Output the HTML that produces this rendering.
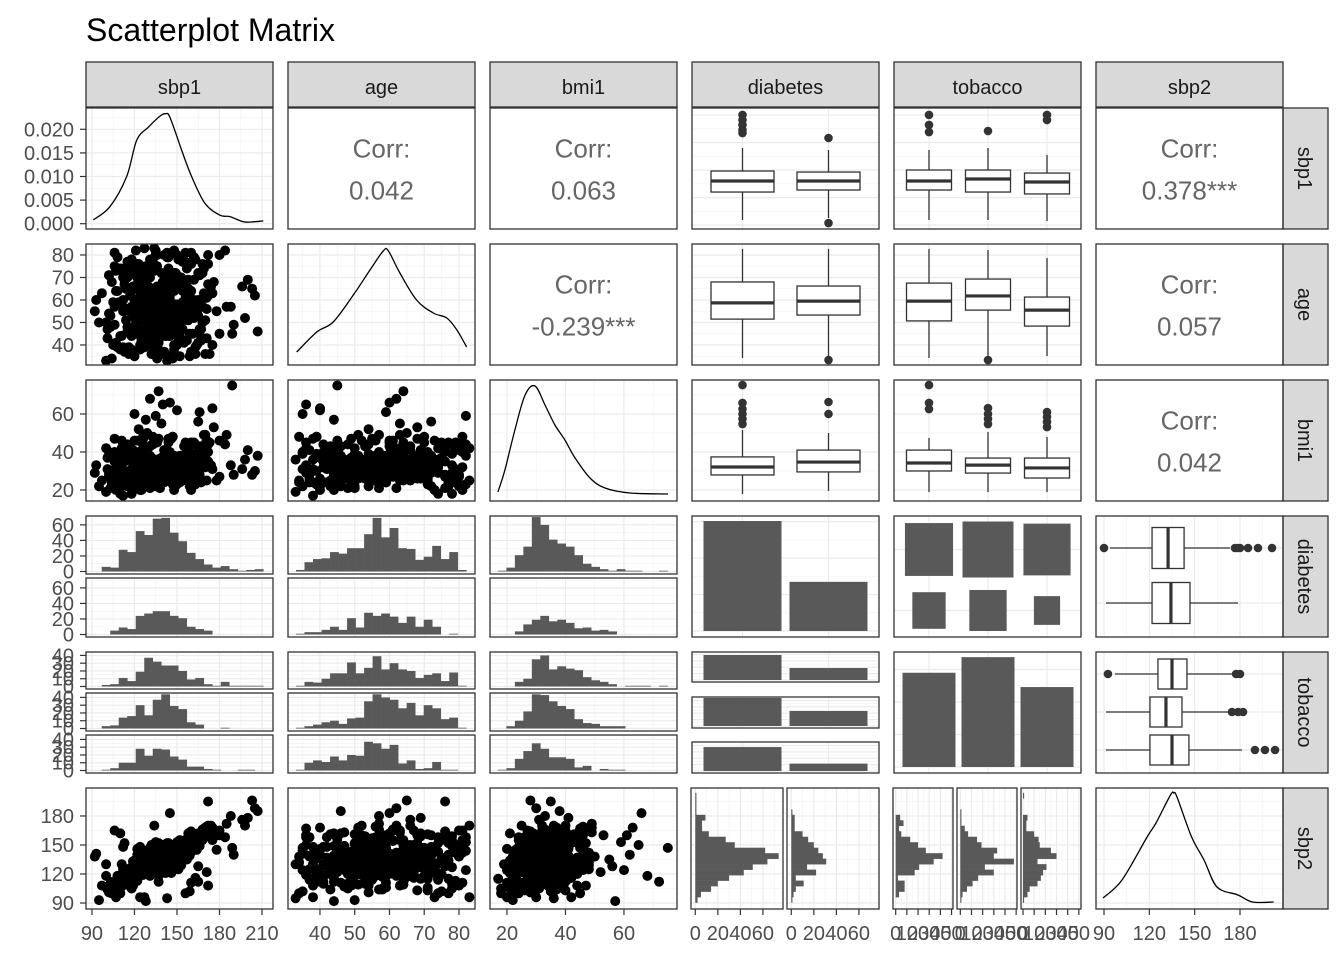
<!DOCTYPE html>
<html><head><meta charset="utf-8">
<style>
body{margin:0;background:#fff}
svg{display:block;font-family:"Liberation Sans",Arial,sans-serif}
</style></head>
<body>
<svg id="chart" width="1344" height="960" viewBox="0 0 1344 960"></svg>
<script>
// ---------------- DATA ----------------
const sbp1Base=[138,124,152,118,145,130,160,112,142,135,127,149,121,156,133,140,115,163,128,146,120,137,154,110,143,131,125,158,139,117,148,134,122,166,129,141,113,151,136,126,170,119,144,132,155,108,147,123,161,135,116,150,127,142,119,157,130,138,111,165,125,145,133,121,152,139,114,148,128,159,136,124,143,117,162,131,149,120,140,106,155,129,146,122,168,134,118,153,127,141,175,115,144,132,158,123,137,150,112,164,205,203,200,198,207,180,185,188,95,107,110,97,180,189,175,184,100,104,120,135,150,145,172,112,160,128,118,140,165,92,93,127,196,176,143,131,166,102,190,134,124,156,137,147,178];
const sbp1Extra=[130,135,140,128,145,122,150,138,126,142,133,147,119,155,131,139,124,148,136,129,
141,127,153,134,121,144,137,132,158,125,146,130,139,123,151,135,128,143,120,149,
136,131,154,126,140,133,145,129,137,122,152,138,127,143,134,148,125,141,132,156,
128,139,146,124,135,150,131,142,126,137,144,130,153,121,138,147,133,129,140,135,
118,160,132,145,127,139,151,124,136,143,130,148,134,122,157,137,128,144,131,140,
126,149,135,141,123,152,138,129,146,133,120,143,136,154,127,139,131,147,125,142,
134,150,128,137,145,122,140,132,155,126,138,144,130,148,135,124,141,133,151,129,
112,165,170,115,162,108,168,114,172,110,116,164,118,167,111,159,106,171,113,163];
const sbp1Wide=[105,168,112,160,118,152,100,172,125,147,108,163,131,115,170,122,157,103,144,136,
110,166,128,150,116,174,134,102,159,121,143,113,169,138,106,155,126,162,119,148,
101,171,132,145,114,158,124,167,109,151,137,104,164,129,141,117,173,123,153,107,
160,111,147,133,169,120,142,103,156,127,165,115,139,171,108,150,130,162,118,145,
174,106,154,125,161,113,148,136,102,167,121,157,110,143,170,128,152,105,163,116,
149,131,172,107,158,122,144,166,112,155,135,101,168,126,141,119,160,109,153,134];
const ageBase=[58,62,47,55,66,51,59,70,44,63,57,72,49,61,54,68,46,56,75,52,60,41,64,58,50,78,43,69,55,62,38,73,53,47,65,59,67,42,80,56,61,48,70,36,58,64,52,76,45,60,71,57,39,66,54,74,49,62,58,53,68,44,77,59,35,63,51,72,47,57,66,40,81,55,60,46,69,52,64,57,41,73,55,67,50,61,44,70,58,37,63,56,79,48,65,54,42,71,60,55,62,65,69,52,46,80,57,57,50,73,74,63,45,45,40,82,33,34,35,82,40,60,76,38,81,44,78,36,72,55,60,83,66,68,33,62,59,71,49,83,38,77,64,34,55];
const ageExtra=[55,60,48,63,52,67,58,45,70,56,61,50,65,57,42,72,59,53,64,47,
62,55,68,51,58,44,66,60,54,71,49,63,57,46,69,56,61,52,74,58,
50,65,59,43,67,54,62,57,48,70,56,64,51,60,45,68,58,53,73,55,
61,47,66,57,52,69,59,44,63,56,71,50,58,65,54,47,62,60,68,53,
57,64,49,72,56,61,45,67,59,52,70,55,63,48,66,58,54,74,51,60,
46,65,57,62,50,69,56,43,64,59,53,71,58,47,66,61,55,68,52,57,
63,49,70,56,60,45,67,58,54,72,50,62,57,64,48,69,55,61,53,66,
38,41,36,77,79,39,76,37,80,44,75,40,78,42,73,35,81,43,74,39];
const ageWide=[40,72,55,64,38,78,50,67,44,81,58,36,70,48,62,76,42,53,68,34,
74,46,60,80,39,66,52,71,45,57,79,37,63,49,75,56,41,69,54,82,
47,61,77,35,65,51,73,43,59,78,38,68,55,46,80,62,36,71,50,64,
76,44,57,39,74,53,67,48,81,41,60,70,37,56,79,45,66,52,72,35,
63,49,77,42,58,69,40,75,54,47,82,61,38,65,51,73,44,59,78,36,
68,50,62,41,76,55,46,71,39,64,80,43,57,70,48,66,37,74,53,60];
const bmiBase=[32,28,36,30,34,27,38,29,41,26,33,31,35,29,44,30,24,34,37,28,46,32,25,31,39,33,22,36,27,42,30,34,29,31,50,24,35,33,28,38,32,26,45,30,37,28,33,40,29,35,23,31,48,27,34,30,36,21,32,43,29,33,26,38,31,55,28,34,30,40,25,37,32,29,35,43,28,33,30,26,38,31,47,27,33,36,24,34,29,41,31,37,28,35,30,52,33,26,39,32,30,28,41,36,38,27,49,33,22,20,18,25,46,75,63,44,19,24,60,59,62,66,35,17,20,57,18,65,56,29,33,42,31,53,36,68,61,40,28,25,30,45,72,48,25];
const bmiExtra=[30,33,28,35,31,27,36,32,29,38,30,34,26,33,31,37,28,32,35,29,
31,27,34,30,36,28,33,29,39,31,26,35,32,30,37,28,34,31,29,33,
32,36,28,31,35,27,30,34,29,38,31,33,26,32,36,30,28,35,31,29,
34,30,27,33,31,37,29,32,35,28,30,34,31,26,33,36,29,32,30,35,
28,31,37,29,34,30,32,27,36,31,33,29,35,30,28,34,31,32,38,29,
30,35,27,33,31,36,29,32,28,34,30,37,31,29,33,27,35,30,32,31,
33,29,36,30,28,34,31,35,27,32,30,38,29,33,31,26,34,30,32,36,
24,40,42,22,45,23,41,25,44,21,43,26,39,24,46,22,40,25,42,23];
const bmiWide=[22,38,27,45,31,24,42,35,20,48,29,33,26,44,37,21,40,30,47,25,
34,28,43,23,39,32,46,27,36,21,41,30,49,25,35,28,44,33,22,38,
31,46,24,40,27,36,20,43,33,29,47,26,37,22,41,30,45,25,34,39,
28,42,23,48,32,26,38,21,44,35,29,40,24,46,31,27,43,36,22,39,
33,47,25,37,30,41,20,45,28,34,23,42,36,26,49,31,38,24,44,29,
35,21,40,32,27,46,25,39,30,43,22,37,33,48,28,41,26,36,31,45];
const sbp2Base=[135,128,142,120,150,125,146,118,139,131,122,148,116,155,137,129,111,158,133,141,124,118,140,105,152,127,120,162,134,126,130,145,113,149,138,126,121,137,142,119,165,110,147,123,151,112,133,130,144,128,115,153,125,139,108,143,136,121,117,159,131,127,140,124,147,135,109,145,129,139,132,120,150,114,156,126,141,119,137,104,148,127,143,116,161,130,112,146,133,138,155,118,142,125,150,122,129,144,120,152,188,196,178,170,185,165,172,180,93,96,100,108,160,147,168,158,130,100,124,153,140,183,195,115,111,92,105,150,128,138,141,96,176,160,95,118,160,103,140,170,96,100,112,132,145];
const sbp2Extra=[128,140,132,125,138,130,145,122,135,142,127,136,133,148,120,139,131,144,126,137,
134,141,129,150,123,136,146,128,139,132,143,124,137,131,147,126,135,140,121,145,
133,127,152,130,138,124,142,135,129,146,137,125,134,141,128,149,132,136,123,143,
130,138,126,144,133,129,147,121,136,140,127,142,131,135,150,124,139,133,128,145,
119,155,134,130,141,126,137,148,132,123,144,136,129,140,135,152,127,131,146,138,
125,139,133,142,128,147,130,136,121,143,134,138,127,149,132,124,140,137,145,129,
136,131,144,126,139,133,128,150,135,141,122,137,130,146,134,127,142,138,125,140,
148,112,160,115,150,118,155,125,108,162,120,145,110,158,130,102,165,122,152,116];
const sbp2Wide=[112,160,125,150,108,155,118,165,130,142,104,158,135,120,168,128,148,110,152,138,
115,162,132,145,122,170,140,106,156,126,147,114,163,137,102,153,129,159,119,144,
107,166,134,141,117,154,124,161,111,149,139,103,157,131,146,121,167,127,151,109,
164,116,143,136,158,123,150,105,155,130,162,118,139,169,113,148,133,160,121,144,
165,108,152,128,157,115,146,137,101,163,124,154,112,141,168,131,149,106,159,119,
147,134,170,110,156,126,143,161,117,153,138,104,166,129,140,122,158,114,151,136];
const sbp1Vals=sbp1Base.concat(sbp1Extra,sbp1Wide);
const ageVals=ageBase.concat(ageExtra,ageWide);
const bmiVals=bmiBase.concat(bmiExtra,bmiWide);
const sbp2Vals=sbp2Base.concat(sbp2Extra,sbp2Wide);

const corrLabels=["0.042","0.063","0.378***","-0.239***","0.057","0.042"];

const sbp1Dens=[[91.0,0.0008],[102.7,0.0036],[114.5,0.0100],[121.6,0.0177],[130,0.0205],[138.0,0.0228],[142,0.0233],[145.1,0.0225],[153.3,0.0156],[160.3,0.0100],[169.8,0.0043],[180.4,0.0018],[187.4,0.0015],[196.8,0.0004],[203.9,0.0004],[210.9,0.0006]];
const ageDens=[[33.3,0.13],[39.1,0.33],[43.8,0.43],[49.6,0.70],[54.4,0.95],[58.2,1.14],[59.7,1.14],[63.0,0.92],[67.8,0.65],[72.6,0.52],[76.5,0.47],[79.4,0.35],[82.2,0.18]];
const bmiDens=[[16.9,0.09],[19.3,0.31],[22.7,0.71],[26.2,1.06],[29.6,1.15],[33.0,0.96],[36.4,0.76],[39.8,0.61],[43.3,0.43],[48.4,0.23],[53.5,0.13],[62.1,0.08],[75.1,0.07]];
const sbp2Dens=[[89.3,0.11],[101.9,0.29],[118.5,0.72],[124.4,0.86],[134.0,1.14],[136.2,1.16],[138.3,1.12],[148.0,0.72],[156.2,0.49],[164.8,0.22],[178.7,0.14],[188.3,0.07],[202.3,0.07]];

// boxplot stats [low,q1,med,q3,high]
const sbp1ByDiab=[[95.6,126.1,138.1,149.0,174.1],[97.8,128.3,138.1,147.9,171.9]];
const sbp1ByDiabOut=[[210.1,204.6,199.2,193.7,190.4],[185.0,92.3]];
const sbp1ByTob=[[95.6,128.3,138.1,150.1,171.9],[95.6,126.1,140.3,150.1,174.1],[94.5,124.0,137.0,146.8,166.5]];
const sbp1ByTobOut=[[210.1,199.2,191.5],[192.6],[210.1,204.6]];
const ageByDiab=[[34.2,51.5,58.7,68.0,82.7],[34.2,53.3,59.5,66.2,82.7]];
const ageByDiabOut=[[],[33.3]];
const ageByTob=[[34.2,50.7,59.5,67.5,82.7],[34.2,55.5,61.8,69.3,82.2],[35.1,48.4,55.5,61.3,78.7]];
const ageByTobOut=[[],[33.3],[]];
const bmiByDiab=[[17.9,27.9,32.1,37.4,51.6],[19.5,29.5,34.7,41.0,50.0]];
const bmiByDiabOut=[[75.2,65.8,62.6,60.0,57.4,54.7],[66.3,60.0]];
const bmiByTob=[[18.9,30.0,34.2,41.0,47.4],[18.9,28.9,33.1,36.8,50.5],[18.9,26.3,31.6,36.8,47.9]];
const bmiByTobOut=[[75.2,65.8,62.6],[63.1,60.0,57.4,54.7],[61.0,58.4,55.8,53.1]];
const sbp2ByDiab=[[94.0,121.8,132.4,143.0,173.4],[91.3,121.8,134.3,146.9,178.7]];
const sbp2ByDiabOut=[[90.0,176.7,178.5,180.0,185.3,191.9,201.2],[]];
const sbp2ByTob=[[97.3,125.7,135.0,144.9,176.7],[91.3,120.4,131.0,141.6,172.1],[91.3,120.4,135.0,146.2,181.3]];
const sbp2ByTobOut=[[92.6,177.4,180.0],[174.7,178.7,182.0],[189.9,196.5,203.2]];

// counts
const diabCounts=[302,135];
const tobCounts=[145,169,123];
const diabTobCounts=[[98,110,94],[47,59,29]];
const tobDiabCounts=[[98,47],[110,59],[94,29]];

// histograms
const sbp1Diab=[[6,5,28,25,52,47,68,69,50,39,24,16,9,5,7,3,1,2,3],[0,5,9,7,24,27,30,30,24,21,10,7,5,0,0,0,0,0,0]];
const ageDiab=[[2,12,16,17,25,23,30,30,48,69,44,56,30,29,15,19,33,16,25,2],[1,3,3,6,10,6,21,9,28,24,27,23,15,23,10,19,10,0,1,0]];
const bmiDiab=[[1,5,21,32,70,60,41,36,32,21,10,6,3,1,3,1,1,0,0,1],[0,0,4,13,19,24,17,19,15,8,9,5,6,4,0,0,0,0,0,0]];
const sbp1Tob=[[2,3,11,7,19,37,32,27,27,20,9,11,3,1,6,1,1,1,1],[3,4,14,16,30,17,37,44,29,25,8,5,0,0,1,0,0,0,0],[1,3,10,10,28,19,28,27,18,14,5,5,2,1,0,0,1,1,0]];
const ageTob=[[1,6,5,10,17,17,31,17,24,39,22,30,22,20,11,15,17,7,18,1],[1,3,5,8,10,6,13,14,35,44,40,37,26,33,17,30,26,12,14,1],[1,10,13,11,18,13,20,19,37,35,28,33,9,13,2,3,11,1,1,0]];
const bmiTob=[[0,0,6,10,35,40,22,26,23,21,12,8,6,3,0,1,1,1,0,1],[0,3,10,22,44,43,35,29,25,12,7,6,3,3,3,0,0,0,0,0],[1,3,15,25,35,28,17,17,15,4,6,0,2,1,1,0,0,0,0,0]];
const sbp2DiabHist=[[2,5,14,20,30,43,51,64,74,62,35,27,12,6,6,9,1,1,1,1],[1,2,4,11,4,22,14,31,28,24,20,15,10,3,3,3,1,0,0,0]];
const sbp2TobHist=[[0,3,8,8,2,17,21,34,42,27,20,13,5,3,7,4,0,0,0,0],[1,2,6,11,16,30,22,48,30,33,19,15,7,4,1,1,1,0,0,0],[1,4,6,13,16,18,21,13,30,25,15,14,10,3,3,4,0,0,0,1]];

const varNames=["sbp1","age","bmi1","diabetes","tobacco","sbp2"];
const tickSbp1=[90,120,150,180,210], tickAge=[40,50,60,70,80], tickBmi=[20,40,60], tickSbp2=[90,120,150,180];
const tickDens=[0,0.005,0.010,0.015,0.020];
const densLabels=["0.000","0.005","0.010","0.015","0.020"];

// ---------------- LAYOUT ----------------
const NS='http://www.w3.org/2000/svg';
const svg=document.getElementById('chart');
const C=[86,288,490,692,894,1096], W=187, R=[108,244,380,516,652,788], H=121;
const bot=r=>R[r]+H;
const xs={sbp1:v=>(v-85.8)*1.417, age:v=>(v-30.8)*3.475, bmi1:v=>(v-14.2)*2.925, sbp2:v=>(v-84.7)*1.511};
const ys={sbp1:v=>(v-85.8)*0.9174, age:v=>(v-31.1)*2.25, bmi1:v=>(v-14.2)*1.9, sbp2:v=>(v-83.8)*0.967};
const binSpec={sbp1:[96.9,6], age:[33.1,2.45], bmi1:[16.9,2.9], sbp2:[90.5,5.67]};
const catX4=[742.5,828.5], catX5=[929,988,1047];
const GRID=svg.appendChild(document.createElementNS(NS,'g'));
const MARK=svg.appendChild(document.createElementNS(NS,'g'));
const TOP=svg.appendChild(document.createElementNS(NS,'g'));

function mk(tag,attrs,name,parent){
  const e=document.createElementNS(NS,tag);
  for(const k in attrs) e.setAttribute(k,attrs[k]);
  
  
  (parent||MARK).appendChild(e);
  return e;
}
function txt(x,y,s,size,fill,anchor,name,parent,extra){
  const t=mk('text',Object.assign({x:x,y:y,'font-size':size,fill:fill,'text-anchor':anchor},extra||{}),name,parent||TOP);
  t.textContent=s; return t;
}
function mids(a){const m=[];for(let i=0;i<a.length-1;i++)m.push((a[i]+a[i+1])/2);if(a.length>1){m.unshift(a[0]-(a[1]-a[0])/2);m.push(a[a.length-1]+(a[1]-a[0])/2);}return m;}
function grid(x0,y0,w,h,xM,yM,xMinor,yMinor){
  const inX=v=>v>x0&&v<x0+w, inY=v=>v>y0&&v<y0+h;
  (xMinor===false?[]:mids(xM)).filter(inX).forEach(x=>mk('line',{x1:x,x2:x,y1:y0,y2:y0+h,stroke:'#f2f2f2','stroke-width':0.6},'grid-minor-x',GRID));
  (yMinor===false?[]:mids(yM)).filter(inY).forEach(y=>mk('line',{x1:x0,x2:x0+w,y1:y,y2:y,stroke:'#f2f2f2','stroke-width':0.6},'grid-minor-y',GRID));
  xM.filter(inX).forEach(x=>mk('line',{x1:x,x2:x,y1:y0,y2:y0+h,stroke:'#ebebeb','stroke-width':1.2},'grid-major-x',GRID));
  yM.filter(inY).forEach(y=>mk('line',{x1:x0,x2:x0+w,y1:y,y2:y,stroke:'#ebebeb','stroke-width':1.2},'grid-major-y',GRID));
}
function border(x0,y0,w,h,name){mk('rect',{x:x0,y:y0,width:w,height:h,fill:'none',stroke:'#333333','stroke-width':1.3},name,TOP);}

const colVar=['sbp1','age','bmi1',null,null,'sbp2'];
const colTicks=[tickSbp1,tickAge,tickBmi,null,null,tickSbp2];
const xMaj=c=>colTicks[c].map(t=>C[c]+xs[colVar[c]](t));
const yMaj=r=>colTicks[r].map(t=>bot(r)-ys[colVar[r]](t));

// title
txt(86,41,'Scatterplot Matrix',32,'#000','start','chart-title',TOP);

// strips
varNames.forEach((n,i)=>{
  mk('rect',{x:C[i],y:62,width:W,height:45,fill:'#d9d9d9',stroke:'#333333','stroke-width':1.3},'column-strip-'+n,TOP);
  txt(C[i]+W/2,94,n,20,'#1a1a1a','middle','column-strip-label-'+n);
  mk('rect',{x:1283,y:R[i],width:45,height:H,fill:'#d9d9d9',stroke:'#333333','stroke-width':1.3},'row-strip-'+n,TOP);
  txt(0,0,n,20,'#1a1a1a','middle','row-strip-label-'+n,TOP,{transform:`translate(1298,${R[i]+H/2}) rotate(90)`});
});

// correlation panels
const corrCells=[[0,1],[0,2],[0,5],[1,2],[1,5],[2,5]];
corrCells.forEach(([r,c],i)=>{
  border(C[c],R[r],W,H,'corr-panel');
  txt(C[c]+W/2,R[r]+H/2-11,'Corr:',26,'#666666','middle','corr-label');
  txt(C[c]+W/2,R[r]+H/2+31,corrLabels[i],26,'#666666','middle','corr-value');
});

// density panels (smoothed catmull-rom)
function density(r,c,pts,yfun,name){
  const x0=C[c];
  const P=pts.map(p=>[x0+xs[colVar[c]](p[0]),yfun(p[1])]);
  let d='M'+P[0][0].toFixed(1)+','+P[0][1].toFixed(1);
  for(let i=0;i<P.length-1;i++){
    const p0=P[Math.max(0,i-1)],p1=P[i],p2=P[i+1],p3=P[Math.min(P.length-1,i+2)];
    const c1=[p1[0]+(p2[0]-p0[0])/6,p1[1]+(p2[1]-p0[1])/6];
    const c2=[p2[0]-(p3[0]-p1[0])/6,p2[1]-(p3[1]-p1[1])/6];
    d+=`C${c1[0].toFixed(1)},${c1[1].toFixed(1)} ${c2[0].toFixed(1)},${c2[1].toFixed(1)} ${p2[0].toFixed(1)},${p2[1].toFixed(1)}`;
  }
  mk('path',{d:d,fill:'none',stroke:'#000','stroke-width':1.3},name);
}
grid(C[0],R[0],W,H,xMaj(0),tickDens.map(t=>223.7-t*4720));
density(0,0,sbp1Dens,v=>223.7-v*4720,'density-sbp1');
border(C[0],R[0],W,H,'panel-sbp1-density');
grid(C[1],R[1],W,H,xMaj(1),yMaj(1));
density(1,1,ageDens,v=>365-v*100,'density-age');
border(C[1],R[1],W,H,'panel-age-density');
grid(C[2],R[2],W,H,xMaj(2),yMaj(2));
density(2,2,bmiDens,v=>501-v*100,'density-bmi1');
border(C[2],R[2],W,H,'panel-bmi1-density');
grid(C[5],R[5],W,H,xMaj(5),yMaj(5));
density(5,5,sbp2Dens,v=>909-v*100,'density-sbp2');
border(C[5],R[5],W,H,'panel-sbp2-density');

// scatter panels
const varData={sbp1:sbp1Vals,age:ageVals,bmi1:bmiVals,sbp2:sbp2Vals};
const defs=mk('defs',{},'defs',svg);
function scatter(r,c){
  const xv=colVar[c], yv=colVar[r];
  const id='clip'+r+c;
  const cp=mk('clipPath',{id:id},'clip',defs);
  mk('rect',{x:C[c],y:R[r],width:W,height:H},'clip-rect',cp);
  grid(C[c],R[r],W,H,xMaj(c),yMaj(r));
  const g=mk('g',{'clip-path':`url(#${id})`},'scatter-'+xv+'-'+yv);
  varData[xv].forEach((v,i)=>{
    mk('circle',{cx:(C[c]+xs[xv](v)).toFixed(1),cy:(bot(r)-ys[yv](varData[yv][i])).toFixed(1),r:5,fill:'#000'},'point',g);
  });
  border(C[c],R[r],W,H,'panel-'+xv+'-'+yv);
}
[[1,0],[2,0],[2,1],[5,0],[5,1],[5,2]].forEach(([r,c])=>scatter(r,c));

// vertical boxplots
function vbox(cx,w,s,outs,yf,name){
  const g=mk('g',{},name);
  mk('line',{x1:cx,x2:cx,y1:yf(s[0]),y2:yf(s[1]),stroke:'#333','stroke-width':1.3},'whisker-low',g);
  mk('line',{x1:cx,x2:cx,y1:yf(s[3]),y2:yf(s[4]),stroke:'#333','stroke-width':1.3},'whisker-high',g);
  mk('rect',{x:cx-w/2,y:yf(s[3]),width:w,height:yf(s[1])-yf(s[3]),fill:'#fff',stroke:'#333','stroke-width':1.3},'box',g);
  mk('line',{x1:cx-w/2,x2:cx+w/2,y1:yf(s[2]),y2:yf(s[2]),stroke:'#333','stroke-width':3.2},'median',g);
  outs.forEach(o=>mk('circle',{cx:cx,cy:yf(o),r:4.3,fill:'#333'},'outlier',g));
}
function hbox(cy,h,s,outs,xf,name){
  const g=mk('g',{},name);
  mk('line',{y1:cy,y2:cy,x1:xf(s[0]),x2:xf(s[1]),stroke:'#333','stroke-width':1.3},'whisker-low',g);
  mk('line',{y1:cy,y2:cy,x1:xf(s[3]),x2:xf(s[4]),stroke:'#333','stroke-width':1.3},'whisker-high',g);
  mk('rect',{y:cy-h/2,x:xf(s[1]),height:h,width:xf(s[3])-xf(s[1]),fill:'#fff',stroke:'#333','stroke-width':1.3},'box',g);
  mk('line',{y1:cy-h/2,y2:cy+h/2,x1:xf(s[2]),x2:xf(s[2]),stroke:'#333','stroke-width':3.2},'median',g);
  outs.forEach(o=>mk('circle',{cy:cy,cx:xf(o),r:4.3,fill:'#333'},'outlier',g));
}
const boxRows=[[0,sbp1ByDiab,sbp1ByDiabOut,sbp1ByTob,sbp1ByTobOut],[1,ageByDiab,ageByDiabOut,ageByTob,ageByTobOut],[2,bmiByDiab,bmiByDiabOut,bmiByTob,bmiByTobOut]];
boxRows.forEach(([r,bd,bdo,bt,bto])=>{
  const yv=colVar[r], yf=v=>bot(r)-ys[yv](v);
  grid(C[3],R[r],W,H,catX4,yMaj(r),false);
  bd.forEach((s,i)=>vbox(catX4[i],63,s,bdo[i],yf,'boxplot-'+yv+'-diabetes-'+i));
  border(C[3],R[r],W,H,'panel-diabetes-'+yv);
  grid(C[4],R[r],W,H,catX5,yMaj(r),false);
  bt.forEach((s,i)=>vbox(catX5[i],45,s,bto[i],yf,'boxplot-'+yv+'-tobacco-'+i));
  border(C[4],R[r],W,H,'panel-tobacco-'+yv);
});
const xf2=v=>C[5]+xs.sbp2(v);
const boxY4=[548,603], boxY5=[674,712,750];
grid(C[5],R[3],W,H,xMaj(5),boxY4,undefined,false);
sbp2ByDiab.forEach((s,i)=>hbox(boxY4[i],41,s,sbp2ByDiabOut[i],xf2,'boxplot-sbp2-diabetes-'+i));
border(C[5],R[3],W,H,'panel-sbp2-diabetes');
grid(C[5],R[4],W,H,xMaj(5),boxY5,undefined,false);
sbp2ByTob.forEach((s,i)=>hbox(boxY5[i],30,s,sbp2ByTobOut[i],xf2,'boxplot-sbp2-tobacco-'+i));
border(C[5],R[4],W,H,'panel-sbp2-tobacco');

// count bars / tiles
grid(C[3],R[3],W,H,catX4,[0,100,200,300].map(t=>631-t*0.3642),false);
diabCounts.forEach((n,i)=>mk('rect',{x:catX4[i]-39,y:631-n*0.3642,width:78,height:n*0.3642,fill:'#595959'},'bar-diabetes-'+i));
border(C[3],R[3],W,H,'panel-diabetes-diabetes');
const tileY=[549.5,610.5];
grid(C[4],R[3],W,H,catX5,tileY,false,false);
diabTobCounts.forEach((row,j)=>row.forEach((n,i)=>{
  const w=4.86*Math.sqrt(n), h=5.34*Math.sqrt(n);
  mk('rect',{x:catX5[i]-w/2,y:tileY[j]-h/2,width:w,height:h,fill:'#595959'},'tile-diabetes-tobacco',MARK);
}));
border(C[4],R[3],W,H,'panel-diabetes-tobacco');
grid(C[4],R[4],W,H,catX5,[0,50,100,150].map(t=>767-t*0.65),false);
tobCounts.forEach((n,i)=>mk('rect',{x:catX5[i]-26.5,y:767-n*0.65,width:53,height:n*0.65,fill:'#595959'},'bar-tobacco-'+i));
border(C[4],R[4],W,H,'panel-tobacco-tobacco');
const facets4r5=[[652,682],[697,728],[742,773]];
tobDiabCounts.forEach((row,f)=>{
  const [t,b]=facets4r5[f], z=b-2;
  grid(C[3],t,W,b-t,catX4,[0,25,50,75,100].map(v=>z-v*0.255),false);
  row.forEach((n,i)=>mk('rect',{x:catX4[i]-39,y:z-n*0.255,width:78,height:n*0.255,fill:'#595959'},'bar-tobacco-diabetes',MARK));
  border(C[3],t,W,b-t,'facet-tobacco-diabetes-'+f);
});

// histograms rows 4/5 cols 1-3
const facetsR4=[[516,574],[578,637]], facetsR5=[[652,689],[693,731],[735,773]];
function histFacet(c,t,b,counts,name,yTicks){
  const v=colVar[c], [s0,bw]=binSpec[v], z=b-2.5;
  grid(C[c],t,W,b-t,xMaj(c),yTicks.map(k=>z-k*0.777));
  counts.forEach((n,i)=>{ if(n<=0) return;
    const x1=C[c]+xs[v](s0+i*bw), x2=C[c]+xs[v](s0+(i+1)*bw);
    mk('rect',{x:x1,y:z-n*0.777,width:x2-x1+0.3,height:n*0.777,fill:'#595959'},'hist-bar',MARK);
  });
  border(C[c],t,W,b-t,name);
}
[[0,sbp1Diab,sbp1Tob],[1,ageDiab,ageTob],[2,bmiDiab,bmiTob]].forEach(([c,d,tb])=>{
  d.forEach((cnt,f)=>histFacet(c,facetsR4[f][0],facetsR4[f][1],cnt,'hist-'+colVar[c]+'-diabetes-'+f,[0,20,40,60]));
  tb.forEach((cnt,f)=>histFacet(c,facetsR5[f][0],facetsR5[f][1],cnt,'hist-'+colVar[c]+'-tobacco-'+f,[0,10,20,30,40]));
});

// horizontal histograms row 6
const yf6=v=>909-ys.sbp2(v);
function hHistFacet(x0,x1,zero,k,counts,tks,name){
  grid(x0,R[5],x1-x0,H,tks.map(t=>zero+t*k),yMaj(5));
  const [s0,bw]=binSpec.sbp2;
  counts.forEach((n,i)=>{ if(n<=0) return;
    const ya=yf6(s0+(i+1)*bw), yb=yf6(s0+i*bw);
    mk('rect',{x:zero,y:ya,width:n*k,height:yb-ya+0.3,fill:'#595959'},'hist-bar-sbp2',MARK);
  });
  border(x0,R[5],x1-x0,H,name);
}
const f6c4=[[691,783,695.3],[787,879,791.3]], f6c5=[[893,953,895.7],[957,1017,960.3],[1021,1081,1023]];
const cntTicks4=[0,20,40,60], cntTicks5=[0,10,20,30,40,50];
sbp2DiabHist.forEach((cnt,f)=>hHistFacet(f6c4[f][0],f6c4[f][1],f6c4[f][2],1.127,cnt,cntTicks4,'hist-sbp2-diabetes-'+f));
sbp2TobHist.forEach((cnt,f)=>hHistFacet(f6c5[f][0],f6c5[f][1],f6c5[f][2],1.117,cnt,cntTicks5,'hist-sbp2-tobacco-'+f));

// ---------------- AXES ----------------
function lt(y,label,name){
  mk('line',{x1:80,x2:86,y1:y,y2:y,stroke:'#333','stroke-width':1.2},'y-tick',TOP);
  txt(74,y+7,label,20,'#4d4d4d','end',name);
}
function bt(x,label,name){
  mk('line',{x1:x,x2:x,y1:909,y2:915,stroke:'#333','stroke-width':1.2},'x-tick',TOP);
  txt(x,940,label,20,'#4d4d4d','middle',name);
}
tickDens.forEach((t,i)=>lt(223.7-t*4720,densLabels[i],'y-tick-label-sbp1'));
tickAge.forEach(t=>lt(bot(1)-ys.age(t),String(t),'y-tick-label-age'));
tickBmi.forEach(t=>lt(bot(2)-ys.bmi1(t),String(t),'y-tick-label-bmi1'));
facetsR4.forEach(([t,b])=>[0,20,40,60].forEach(k=>lt(b-2.5-k*0.777,String(k),'y-tick-label-diabetes')));
facetsR5.forEach(([t,b])=>[0,10,20,30,40].forEach(k=>lt(b-2.5-k*0.777,String(k),'y-tick-label-tobacco')));
tickSbp2.forEach(t=>lt(bot(5)-ys.sbp2(t),String(t),'y-tick-label-sbp2'));
tickSbp1.forEach(t=>bt(C[0]+xs.sbp1(t),String(t),'x-tick-label-sbp1'));
tickAge.forEach(t=>bt(C[1]+xs.age(t),String(t),'x-tick-label-age'));
tickBmi.forEach(t=>bt(C[2]+xs.bmi1(t),String(t),'x-tick-label-bmi1'));
f6c4.forEach(f=>cntTicks4.forEach(k=>bt(f[2]+k*1.127,String(k),'x-tick-label-diabetes')));
f6c5.forEach(f=>cntTicks5.forEach(k=>bt(f[2]+k*1.117,String(k),'x-tick-label-tobacco')));
tickSbp2.forEach(t=>bt(C[5]+xs.sbp2(t),String(t),'x-tick-label-sbp2'));
</script>
</body></html>
